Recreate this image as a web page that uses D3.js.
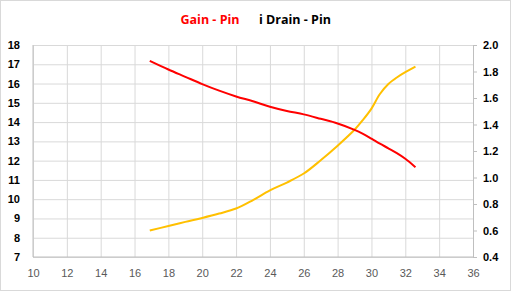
<!DOCTYPE html>
<html>
<head>
<meta charset="utf-8">
<script src="https://cdn.jsdelivr.net/npm/d3@7"></script>
<style>
  body { margin: 0; background: #fff; }
  svg { display: block; font-family: "Open Sans", "Noto Sans", sans-serif; }
  .grid line { stroke: #d9d9d9; stroke-width: 1; }
  .grid path { display: none; }
  .ylab text { font-size: 11px; fill: #000; font-weight: 600; }
  .xlab text { font-size: 11px; fill: #595959; }
</style>
</head>
<body>
<svg id="chart"></svg>
<script>
// Pin (dBm)
var pin = [16.9, 18, 19, 20, 21, 22, 23, 24, 25, 26, 27, 28, 29, 29.5, 30, 30.5, 31, 31.5, 32, 32.6];
// Gain (dB), left axis
var gain = [17.18, 16.73, 16.35, 15.97, 15.63, 15.33, 15.08, 14.80, 14.58, 14.40, 14.17, 13.93, 13.60, 13.39, 13.14, 12.88, 12.64, 12.39, 12.10, 11.66];
// i Drain (A), right axis
var idrain = [0.60, 0.634, 0.665, 0.695, 0.728, 0.766, 0.83, 0.903, 0.962, 1.03, 1.13, 1.24, 1.36, 1.435, 1.52, 1.63, 1.705, 1.755, 1.795, 1.836];

var xTicks = d3.range(10, 37, 2);
var yTicks = d3.range(7, 19, 1);
var y2Ticks = [0.4, 0.6, 0.8, 1.0, 1.2, 1.4, 1.6, 1.8, 2.0];

var W = 511, H = 291;
var margin = {top: 45, right: 38, bottom: 34, left: 33};
var width = W - margin.left - margin.right;
var height = H - margin.top - margin.bottom;

var svg = d3.select('#chart')
    .attr("width", W)
    .attr("height", H);

// outer border
svg.append("rect")
    .attr("x", 0.5).attr("y", 0.5)
    .attr("width", W - 1).attr("height", H - 1)
    .attr("fill", "#fff")
    .attr("stroke", "#d9d9d9");

var g = svg.append("g")
    .attr("transform", "translate(" + margin.left + "," + margin.top + ")");

var x = d3.scaleLinear().domain([10, 36]).range([0, width]);
var y = d3.scaleLinear().domain([7, 18]).range([height, 0]);
var y2 = d3.scaleLinear().domain([0.4, 2.0]).range([height, 0]);

// gridlines
g.append("g")
    .attr("class", "grid")
    .attr("transform", "translate(0," + height + ")")
    .call(d3.axisBottom(x).tickValues(xTicks).tickSize(-height).tickFormat(""));
g.append("g")
    .attr("class", "grid")
    .call(d3.axisLeft(y).tickValues(yTicks).tickSize(-width).tickFormat(""));

// axis lines
g.append("line")
    .attr("x1", 0).attr("x2", 0).attr("y1", 0).attr("y2", height)
    .attr("stroke", "#bfbfbf");
g.append("line")
    .attr("x1", 0).attr("x2", width).attr("y1", height).attr("y2", height)
    .attr("stroke", "#bfbfbf");

// right axis with outward ticks
var right = g.append("g")
    .attr("transform", "translate(" + width + ",0)")
    .call(d3.axisRight(y2).tickValues(y2Ticks).tickSize(4).tickFormat(""));
right.select(".domain").attr("stroke", "#bfbfbf");
right.selectAll(".tick line").attr("stroke", "#bfbfbf");

// labels
var leftLab = g.append("g").attr("class", "ylab")
    .call(d3.axisLeft(y).tickValues(yTicks).tickSize(0).tickPadding(13).tickFormat(d3.format("d")));
leftLab.select(".domain").remove();

var rightLab = g.append("g").attr("class", "ylab")
    .attr("transform", "translate(" + width + ",0)")
    .call(d3.axisRight(y2).tickValues(y2Ticks).tickSize(0).tickPadding(10).tickFormat(d3.format(".1f")));
rightLab.select(".domain").remove();

var bottomLab = g.append("g").attr("class", "xlab")
    .attr("transform", "translate(0," + height + ")")
    .call(d3.axisBottom(x).tickValues(xTicks).tickSize(0).tickPadding(12).tickFormat(d3.format("d")));
bottomLab.select(".domain").remove();

// lines
var gainData = pin.map(function(p, i) { return {x: p, y: gain[i]}; });
var idData = pin.map(function(p, i) { return {x: p, y: idrain[i]}; });

g.append("path")
    .datum(idData)
    .attr("fill", "none")
    .attr("stroke", "#ffc000")
    .attr("stroke-width", 2)
    .attr("d", d3.line()
        .curve(d3.curveCatmullRom.alpha(0.5))
        .x(function(d) { return x(d.x); })
        .y(function(d) { return y2(d.y); }));

g.append("path")
    .datum(gainData)
    .attr("fill", "none")
    .attr("stroke", "#ff0000")
    .attr("stroke-width", 2)
    .attr("d", d3.line()
        .curve(d3.curveCatmullRom.alpha(0.5))
        .x(function(d) { return x(d.x); })
        .y(function(d) { return y(d.y); }));

// title (legend style)
svg.append("text")
    .attr("x", 210).attr("y", 24)
    .attr("text-anchor", "middle")
    .attr("font-size", 12.5).attr("font-weight", "bold")
    .attr("fill", "#ff0000")
    .text("Gain - Pin");
svg.append("text")
    .attr("x", 295).attr("y", 24)
    .attr("text-anchor", "middle")
    .attr("font-size", 12.5).attr("font-weight", "bold")
    .attr("fill", "#000")
    .text("i Drain - Pin");
</script>
</body>
</html>
